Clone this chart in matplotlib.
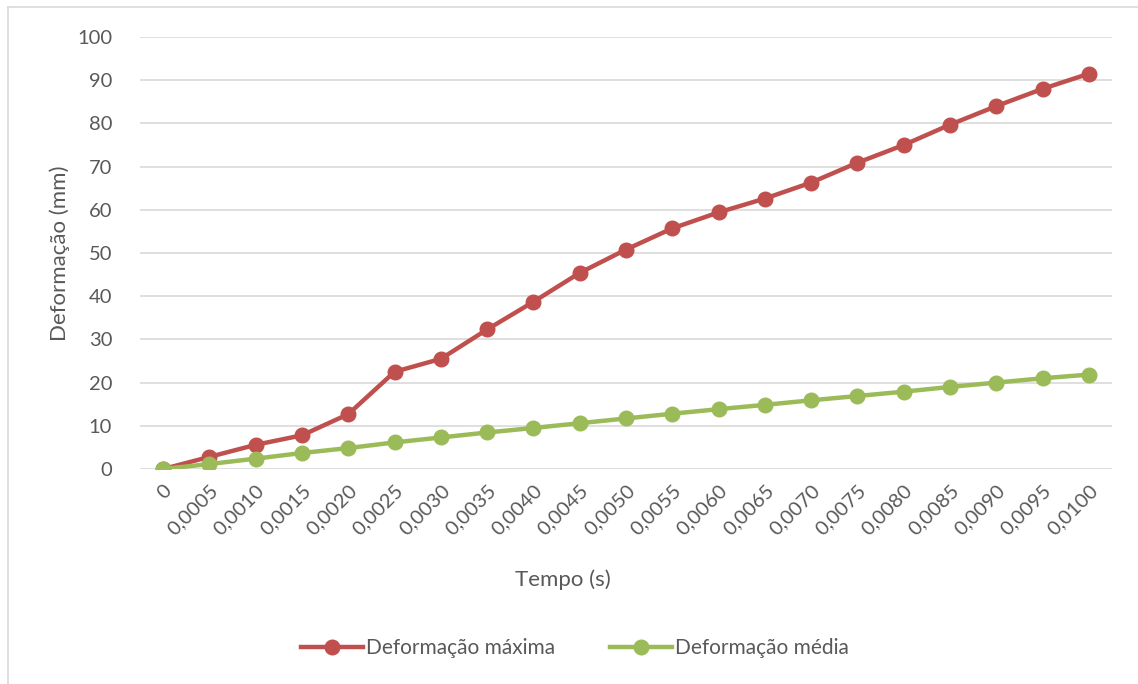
import matplotlib.pyplot as plt
from matplotlib.lines import Line2D

plt.rcParams['font.family'] = ['Lato', 'DejaVu Sans']

tempo = ['0', '0,0005', '0,0010', '0,0015', '0,0020', '0,0025', '0,0030',
         '0,0035', '0,0040', '0,0045', '0,0050', '0,0055', '0,0060', '0,0065',
         '0,0070', '0,0075', '0,0080', '0,0085', '0,0090', '0,0095', '0,0100']
def_maxima = [0, 2.8, 5.6, 7.8, 12.7, 22.5, 25.5, 32.3, 38.7, 45.4, 50.8,
              55.7, 59.4, 62.6, 66.3, 70.9, 75.0, 79.7, 84.0, 88.0, 91.5]
def_media = [0, 1.15, 2.4, 3.7, 4.85, 6.15, 7.3, 8.45, 9.5, 10.6, 11.7,
             12.8, 13.85, 14.85, 15.9, 16.9, 17.9, 19.0, 20.0, 21.0, 21.85]

vermelho = '#C0504D'
verde = '#9BBB59'
cinza = '#595959'

fig = plt.figure(figsize=(11.38, 6.84), dpi=100)
ax = fig.add_axes([140/1138, 1-469/684, 972/1138, 432/684])

x = range(len(tempo))
ax.plot(x, def_maxima, color=vermelho, lw=3.2, marker='o', ms=10.5,
        label='Deformação máxima', zorder=3)
ax.plot(x, def_media, color=verde, lw=3.2, marker='o', ms=10.5,
        label='Deformação média', zorder=4)

ax.set_xlim(-0.5, len(tempo) - 0.5)
ax.set_ylim(0, 100)
ax.set_yticks(range(0, 101, 10))
ax.set_xticks(list(x))
ax.set_xticklabels(tempo, rotation=45, ha='right', va='top',
                   rotation_mode='anchor')
ax.tick_params(axis='both', length=0, labelsize=14.5, colors=cinza)
ax.tick_params(axis='y', pad=20)
ax.tick_params(axis='x', pad=9)
ax.grid(axis='y', color='#D9D9D9', lw=1.2)
ax.set_axisbelow(True)
for s in ax.spines.values():
    s.set_visible(False)

fig.text(60/1138, 1-253/684, 'Deformação (mm)', fontsize=16, color=cinza,
         ha='center', va='center', rotation=90)
fig.text(563/1138, 1-580/684, 'Tempo (s)', fontsize=16, color=cinza,
         ha='center', va='center')

fig.legend(loc='center', bbox_to_anchor=(575/1138, 1-648/684), ncol=2,
           frameon=False, fontsize=15, labelcolor=cinza, handlelength=3,
           handletextpad=0.15, columnspacing=2.6)

# moldura do gráfico (só esquerda e topo aparecem)
fig.add_artist(Line2D([8/1138, 8/1138], [0, 1-7/684], color='#D9D9D9', lw=1.2))
fig.add_artist(Line2D([8/1138, 1], [1-7/684, 1-7/684], color='#D9D9D9', lw=1.2))

fig.savefig('out.png', dpi=100)
